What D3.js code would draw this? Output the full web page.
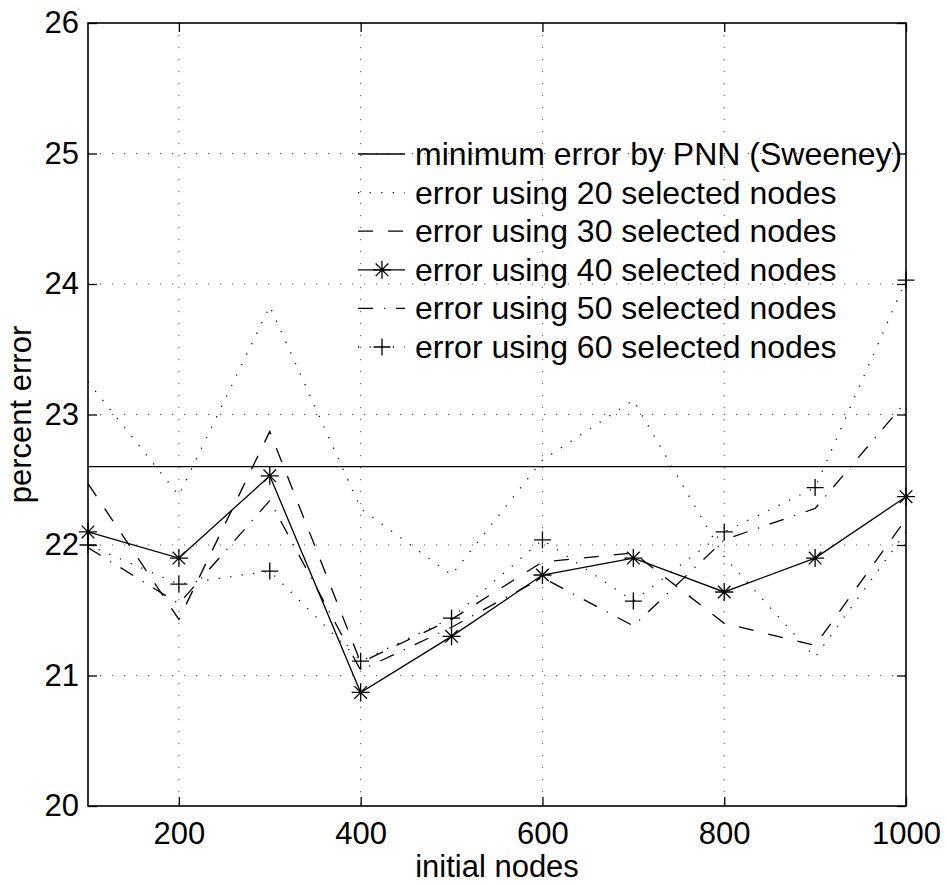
<!DOCTYPE html>
<html>
<head>
<meta charset="utf-8">
<script src="https://cdn.jsdelivr.net/npm/d3@7"></script>
<style>
  body { margin: 0; background: #fff; }
  svg { display: block; font-family: "Liberation Sans", Arial, Helvetica, sans-serif; }
</style>
</head>
<body>
<svg id="chart" width="947" height="885"></svg>
<script>
// Percent error against number of initial nodes
const initialNodes = [100, 200, 300, 400, 500, 600, 700, 800, 900, 1000];
const pnnMinimum = 22.6;
const err20 = [23.25, 22.38, 23.83, 22.28, 21.77, 22.65, 23.11, 21.91, 21.14, 22.10];
const err30 = [22.47, 21.43, 22.87, 21.10, 21.43, 21.87, 21.94, 21.40, 21.23, 22.20];
const err40 = [22.10, 21.90, 22.53, 20.87, 21.30, 21.77, 21.90, 21.64, 21.90, 22.37];
const err50 = [21.98, 21.55, 22.34, 21.04, 21.37, 21.75, 21.38, 22.04, 22.28, 23.10];
const err60 = [22.00, 21.70, 21.80, 21.11, 21.44, 22.04, 21.57, 22.10, 22.44, 24.03];
const xTicks = [200, 400, 600, 800, 1000];
const yTicks = [20, 21, 22, 23, 24, 25, 26];
const legendLabels = [
  "minimum error by PNN (Sweeney)",
  "error using 20 selected nodes",
  "error using 30 selected nodes",
  "error using 40 selected nodes",
  "error using 50 selected nodes",
  "error using 60 selected nodes"
];

const svg = d3.select("#chart");
const plotL = 88, plotR = 906, plotT = 23, plotB = 806;
const FONT = 31, LEGEND_FONT = 32;

const x = d3.scaleLinear().domain([100, 1000]).range([plotL, plotR]);
const y = d3.scaleLinear().domain([20, 26]).range([plotB, plotT]);

// line styles: solid, dotted, dashed, solid+asterisk, dash-dot, dotted+plus
const DOT = "1.2,10.4", DASH = "15,15", DASHDOT = "15,11,1.2,11";
const series = [
  { values: initialNodes.map(() => pnnMinimum), dash: null, marker: null },
  { values: err20, dash: DOT, marker: null },
  { values: err30, dash: DASH, marker: null },
  { values: err40, dash: null, marker: "star" },
  { values: err50, dash: DASHDOT, marker: null },
  { values: err60, dash: DOT, marker: "plus" }
];

const starPath = "M-9,0H9M0,-9V9M-6.3,-6.3L6.3,6.3M-6.3,6.3L6.3,-6.3";
const plusPath = "M-8.5,0H8.5M0,-8.5V8.5";

// grid
const grid = svg.append("g").attr("stroke", "#555").attr("stroke-width", 1)
  .attr("stroke-dasharray", "1.2,10.8").attr("fill", "none");
grid.selectAll("line.v").data(xTicks.filter(d => d < 1000)).join("line")
  .attr("class", "v")
  .attr("x1", d => x(d)).attr("x2", d => x(d)).attr("y1", plotT).attr("y2", plotB);
grid.selectAll("line.h").data(yTicks.filter(d => d > 20 && d < 26)).join("line")
  .attr("class", "h")
  .attr("x1", plotL).attr("x2", plotR).attr("y1", d => y(d)).attr("y2", d => y(d));

// axes with inward ticks on all four sides
function styleAxis(g) {
  g.select(".domain").remove();
  g.selectAll(".tick line").attr("stroke", "#000").attr("stroke-width", 1.3);
  g.selectAll(".tick text").attr("fill", "#000").style("font-size", FONT + "px")
    .style("font-family", '"Liberation Sans", Arial, sans-serif');
}
svg.append("g").attr("transform", `translate(0,${plotB})`)
  .call(d3.axisBottom(x).tickValues(xTicks).tickSize(-9).tickPadding(16).tickFormat(d3.format("d")))
  .call(styleAxis);
svg.append("g").attr("transform", `translate(0,${plotT})`)
  .call(d3.axisTop(x).tickValues(xTicks).tickSize(-9).tickFormat(""))
  .call(styleAxis);
svg.append("g").attr("transform", `translate(${plotL},0)`)
  .call(d3.axisLeft(y).tickValues(yTicks).tickSize(-9).tickPadding(9).tickFormat(d3.format("d")))
  .call(styleAxis);
svg.append("g").attr("transform", `translate(${plotR},0)`)
  .call(d3.axisRight(y).tickValues(yTicks).tickSize(-9).tickFormat(""))
  .call(styleAxis);

// frame
svg.append("rect").attr("x", plotL).attr("y", plotT)
  .attr("width", plotR - plotL).attr("height", plotB - plotT)
  .attr("fill", "none").attr("stroke", "#000").attr("stroke-width", 1.6);

// data lines
const line = d3.line().x((d, i) => x(initialNodes[i])).y(d => y(d));
const plot = svg.append("g");
series.forEach(s => {
  plot.append("path").datum(s.values)
    .attr("d", line)
    .attr("fill", "none").attr("stroke", "#000").attr("stroke-width", 1.3)
    .attr("stroke-dasharray", s.dash);
  if (s.marker) {
    plot.append("g").selectAll("path").data(s.values).join("path")
      .attr("transform", (d, i) => `translate(${x(initialNodes[i])},${y(d)})`)
      .attr("d", s.marker === "star" ? starPath : plusPath)
      .attr("fill", "none").attr("stroke", "#000").attr("stroke-width", 1.3);
  }
});

// legend (no frame, grid shows through)
const legend = svg.append("g");
const lx0 = 358, lx1 = 405, lxm = 382, textX = 415, rowY0 = 165, rowStep = 38.6;
series.forEach((s, i) => {
  const by = rowY0 + i * rowStep;
  const ly = by - 11;
  legend.append("line").attr("x1", lx0).attr("x2", lx1).attr("y1", ly).attr("y2", ly)
    .attr("stroke", "#000").attr("stroke-width", 1.3).attr("stroke-dasharray", s.dash);
  if (s.marker) {
    legend.append("path").attr("transform", `translate(${lxm},${ly})`)
      .attr("d", s.marker === "star" ? starPath : plusPath)
      .attr("fill", "none").attr("stroke", "#000").attr("stroke-width", 1.3);
  }
  legend.append("text").attr("x", textX).attr("y", by)
    .style("font-size", LEGEND_FONT + "px").attr("fill", "#000")
    .text(legendLabels[i]);
});

// axis titles
svg.append("text").attr("x", (plotL + plotR) / 2).attr("y", 877)
  .attr("text-anchor", "middle").style("font-size", FONT + "px").text("initial nodes");
svg.append("text").attr("transform", `translate(31,${(plotT + plotB) / 2}) rotate(-90)`)
  .attr("text-anchor", "middle").style("font-size", FONT + "px").text("percent error");
</script>
</body>
</html>
